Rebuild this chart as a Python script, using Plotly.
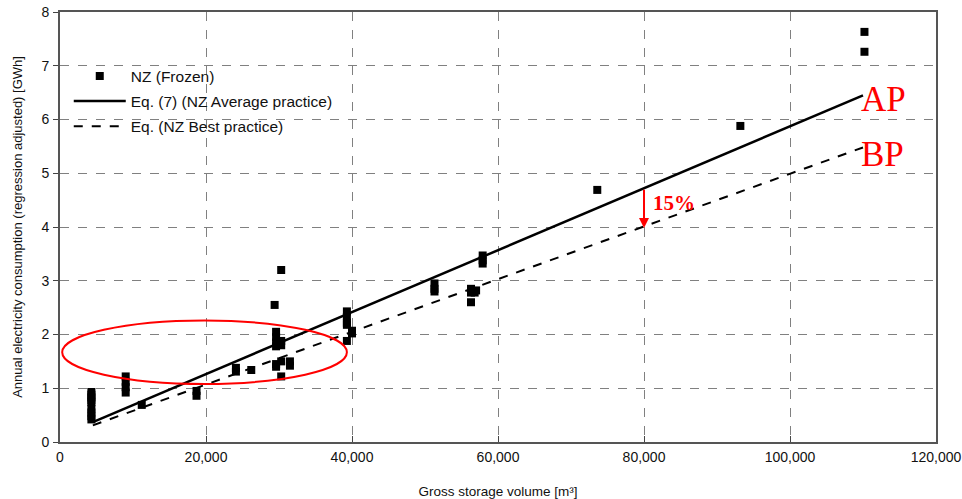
import plotly.graph_objects as go

# Data
volume = [4300, 4300, 4300, 4300, 4300, 4300, 4300, 4300, 4300,
          9000, 9000, 9000, 9000,
          11200,
          18700, 18700,
          24100, 24100,
          26200,
          29400, 29600, 29600, 29600, 29600, 29600, 29600,
          30300, 30300, 30300, 30300, 30300,
          31500, 31500,
          39300, 39300, 39300, 39300, 39300,
          40000, 40000,
          51300, 51300, 51300,
          56300, 56300, 56300,
          57000, 56800,
          57900, 57900, 57900,
          73600,
          93200,
          110200, 110200]
consumption = [0.93, 0.88, 0.83, 0.78, 0.74, 0.62, 0.55, 0.48, 0.42,
               1.22, 1.12, 1.02, 0.92,
               0.69,
               0.95, 0.86,
               1.38, 1.31,
               1.34,
               2.55, 2.05, 1.95, 1.85, 1.78, 1.45, 1.40,
               3.20, 1.88, 1.80, 1.50, 1.22,
               1.50, 1.42,
               2.43, 2.33, 2.22, 2.18, 1.88,
               2.07, 2.02,
               2.95, 2.85, 2.80,
               2.85, 2.78, 2.60,
               2.82, 2.78,
               3.47, 3.38, 3.32,
               4.69,
               5.88,
               7.63, 7.26]

line_x = [4500, 110000]
ap_y = [0.37, 6.45]
bp_y = [0.31, 5.48]

x_ticks = [0, 20000, 40000, 60000, 80000, 100000, 120000]
y_ticks = [0, 1, 2, 3, 4, 5, 6, 7, 8]

arrow_x = 80000
arrow_top = 4.72
arrow_bottom = 3.98

font_sans = "Liberation Sans, Arial, sans-serif"
font_serif = "Liberation Serif, Times New Roman, serif"

fig = go.Figure()
fig.add_trace(go.Scatter(
    x=volume, y=consumption, mode="markers", name="NZ (Frozen)",
    marker=dict(symbol="square", size=8, color="black"),
    legendgroup="a"))
fig.add_trace(go.Scatter(
    x=line_x, y=ap_y, mode="lines", name="Eq. (7) (NZ Average practice)",
    line=dict(color="black", width=2.5), legendgroup="b"))
fig.add_trace(go.Scatter(
    x=line_x, y=bp_y, mode="lines", name="Eq. (NZ Best practice)",
    line=dict(color="black", width=2, dash="dash"), legendgroup="c"))

grid_style = dict(showgrid=True, gridcolor="#808080", griddash="dash", gridwidth=1)

fig.update_layout(
    width=962, height=499,
    margin=dict(l=60, r=26, t=12, b=57),
    paper_bgcolor="white", plot_bgcolor="white",
    font=dict(family=font_sans, size=14, color="#111"),
    showlegend=True,
    legend=dict(x=0.01, y=0.89, xanchor="left", yanchor="top",
                bgcolor="rgba(255,255,255,0)", font=dict(size=15.5, color="#111"),
                tracegroupgap=2, traceorder="grouped", itemwidth=52),
    xaxis=dict(range=[0, 120000], tickvals=x_ticks, tickformat=",d",
               ticks="inside", ticklen=6, tickcolor="#444",
               showline=True, linecolor="#555", linewidth=2, zeroline=False,
               mirror=True, automargin=False, ticklabelstandoff=1,
               tickfont=dict(size=14),
               title=dict(text="Gross storage volume [m³]", font=dict(size=13.5), standoff=27),
               **grid_style),
    yaxis=dict(range=[0, 8], tickvals=y_ticks,
               ticks="outside", ticklen=5, tickcolor="#444",
               showline=True, linecolor="#555", linewidth=2, zeroline=False,
               mirror=True, automargin=False, ticklabelstandoff=1,
               tickfont=dict(size=14),
               title=dict(text="Annual electricity consumption (regression adjusted) [GWh]",
                          font=dict(size=13), standoff=16),
               **grid_style),
)

# Red ellipse highlighting the low-volume cluster
fig.add_shape(type="circle", xref="x", yref="y", x0=300, x1=39300, y0=1.08, y1=2.26,
              line=dict(color="red", width=2))

# Red arrow for 15%
fig.add_annotation(x=arrow_x, y=arrow_bottom, ax=arrow_x, ay=arrow_top,
                   xref="x", yref="y", axref="x", ayref="y",
                   showarrow=True, arrowhead=2, arrowsize=1, arrowwidth=2,
                   arrowcolor="red", text="")
fig.add_annotation(x=81000, y=4.45, xref="x", yref="y", text="<b>15%</b>",
                   showarrow=False, xanchor="left",
                   font=dict(family=font_serif, size=21, color="red"))
fig.add_annotation(x=109500, y=6.38, xref="x", yref="y", text="AP",
                   showarrow=False, xanchor="left",
                   font=dict(family=font_serif, size=35, color="red"))
fig.add_annotation(x=109500, y=5.34, xref="x", yref="y", text="BP",
                   showarrow=False, xanchor="left",
                   font=dict(family=font_serif, size=35, color="red"))

fig.write_html("out.html")
